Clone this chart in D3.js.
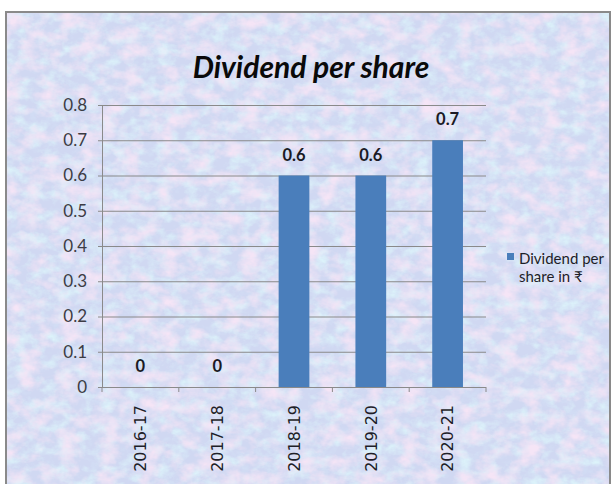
<!DOCTYPE html>
<html>
<head>
<meta charset="utf-8">
<script src="https://cdn.jsdelivr.net/npm/d3@7"></script>
<style>
  body { margin: 0; background: #fff; }
  svg { display: block; }
</style>
</head>
<body>
<div id="chart"></div>
<script>
// chart data
const years = ["2016-17", "2017-18", "2018-19", "2019-20", "2020-21"];
const dividend = [0, 0, 0.6, 0.6, 0.7];
const yTicks = [0, 0.1, 0.2, 0.3, 0.4, 0.5, 0.6, 0.7, 0.8];
const seriesName = ["Dividend per", "share in ₹"];
const chartTitle = "Dividend per share";

const width = 612;
const height = 484;

// plot area
const plot = { left: 102, right: 486, top: 105, bottom: 387 };

const svg = d3.select("#chart")
  .append("svg")
  .attr("width", width)
  .attr("height", height);

// mottled background texture (fine grained, low contrast)
const defs = svg.append("defs");
function noiseFilter(id, freq, seed, rgb, gain, offset) {
  const f = defs.append("filter").attr("id", id)
    .attr("x", 0).attr("y", 0).attr("width", "100%").attr("height", "100%");
  f.append("feTurbulence")
    .attr("type", "fractalNoise")
    .attr("baseFrequency", freq)
    .attr("numOctaves", 4)
    .attr("seed", seed);
  f.append("feColorMatrix")
    .attr("type", "matrix")
    .attr("values", `0 0 0 0 ${rgb[0]}  0 0 0 0 ${rgb[1]}  0 0 0 0 ${rgb[2]}  ${gain} 0 0 0 ${offset}`);
}
noiseFilter("cyanNoise", "0.07 0.09", 11, [0.72, 0.90, 0.96], 2.2, -0.95);
noiseFilter("pinkNoise", "0.05 0.07", 3, [0.91, 0.78, 0.92], 2.4, -1.0);
noiseFilter("blueNoise", "0.10 0.12", 7, [0.66, 0.77, 0.93], 1.6, -0.8);

const frame = { x: 6, y: 12, w: 604, h: 480 };

svg.append("rect")
  .attr("x", frame.x).attr("y", frame.y)
  .attr("width", frame.w).attr("height", frame.h)
  .attr("fill", "#d0d8f2");
["blueNoise", "cyanNoise", "pinkNoise"].forEach(id => {
  svg.append("rect")
    .attr("x", frame.x).attr("y", frame.y)
    .attr("width", frame.w).attr("height", frame.h)
    .attr("filter", `url(#${id})`);
});
svg.append("rect")
  .attr("x", frame.x).attr("y", frame.y)
  .attr("width", frame.w).attr("height", frame.h)
  .attr("fill", "none")
  .attr("stroke", "#8a8a8a")
  .attr("stroke-width", 2);

// scales
const x = d3.scaleBand()
  .domain(years)
  .range([plot.left, plot.right])
  .paddingInner(0.6)
  .paddingOuter(0.3);

const y = d3.scaleLinear()
  .domain([0, 0.8])
  .range([plot.bottom, plot.top]);

// gridlines + y ticks
const yAxis = svg.append("g")
  .attr("transform", `translate(${plot.left},0)`)
  .call(d3.axisLeft(y)
    .tickValues(yTicks)
    .tickSize(4)
    .tickPadding(11)
    .tickFormat(d => d === 0 ? "0" : d3.format(".1f")(d)));
yAxis.select(".domain").attr("stroke", "#8a8a8a");
yAxis.selectAll(".tick line").attr("stroke", "#8a8a8a");
yAxis.selectAll(".tick text")
  .attr("fill", "#3c3c44")
  .style("font-family", "Lato, 'Open Sans', sans-serif")
  .style("font-size", "17px");
yAxis.selectAll(".tick")
  .filter(d => d > 0)
  .append("line")
  .attr("x1", 0)
  .attr("x2", plot.right - plot.left)
  .attr("stroke", "#8a8a8a");

// bars
svg.append("g")
  .selectAll("rect")
  .data(dividend)
  .join("rect")
  .attr("x", (d, i) => x(years[i]))
  .attr("y", d => y(d))
  .attr("width", x.bandwidth())
  .attr("height", d => y(0) - y(d))
  .attr("fill", "#4a7ebb");

// x axis with ticks between categories
const xAxis = svg.append("g");
xAxis.append("line")
  .attr("x1", plot.left - 4).attr("x2", plot.right)
  .attr("y1", y(0) + 0.5).attr("y2", y(0) + 0.5)
  .attr("stroke", "#8a8a8a");
xAxis.selectAll(".sep")
  .data(d3.range(years.length + 1))
  .join("line")
  .attr("x1", i => plot.left + i * x.step())
  .attr("x2", i => plot.left + i * x.step())
  .attr("y1", y(0))
  .attr("y2", y(0) + 5)
  .attr("stroke", "#8a8a8a");

xAxis.selectAll(".lbl")
  .data(years)
  .join("text")
  .attr("transform", d => `translate(${x(d) + x.bandwidth() / 2},${y(0) + 18}) rotate(-90)`)
  .attr("dy", "0.36em")
  .attr("text-anchor", "end")
  .attr("fill", "#1e1e28")
  .style("font-family", "'DejaVu Sans', Verdana, sans-serif")
  .style("font-size", "16px")
  .text(d => d);

// data labels
svg.append("g")
  .selectAll("text")
  .data(dividend)
  .join("text")
  .attr("x", (d, i) => x(years[i]) + x.bandwidth() / 2)
  .attr("y", d => y(d) - 15)
  .attr("text-anchor", "middle")
  .attr("fill", "#1a1a24")
  .style("font-family", "Lato, 'Open Sans', sans-serif")
  .style("font-weight", "bold")
  .style("font-size", "16.5px")
  .text(d => d === 0 ? "0" : d3.format(".1f")(d));

// title
svg.append("text")
  .attr("x", 311)
  .attr("y", 78)
  .attr("text-anchor", "middle")
  .attr("fill", "#0a0a0a")
  .style("font-family", "Lato, 'Open Sans', sans-serif")
  .style("font-weight", "bold")
  .style("font-style", "italic")
  .style("font-size", "30px")
  .text(chartTitle);

// legend
const legend = svg.append("g");
legend.append("rect")
  .attr("x", 507).attr("y", 253)
  .attr("width", 7).attr("height", 7)
  .attr("fill", "#4a7ebb");
legend.selectAll("text")
  .data(seriesName)
  .join("text")
  .attr("x", 519)
  .attr("y", (d, i) => 264 + i * 18)
  .attr("fill", "#1e1e28")
  .style("font-family", "Lato, 'Open Sans', sans-serif")
  .style("font-size", "15px")
  .text(d => d);
</script>
</body>
</html>
